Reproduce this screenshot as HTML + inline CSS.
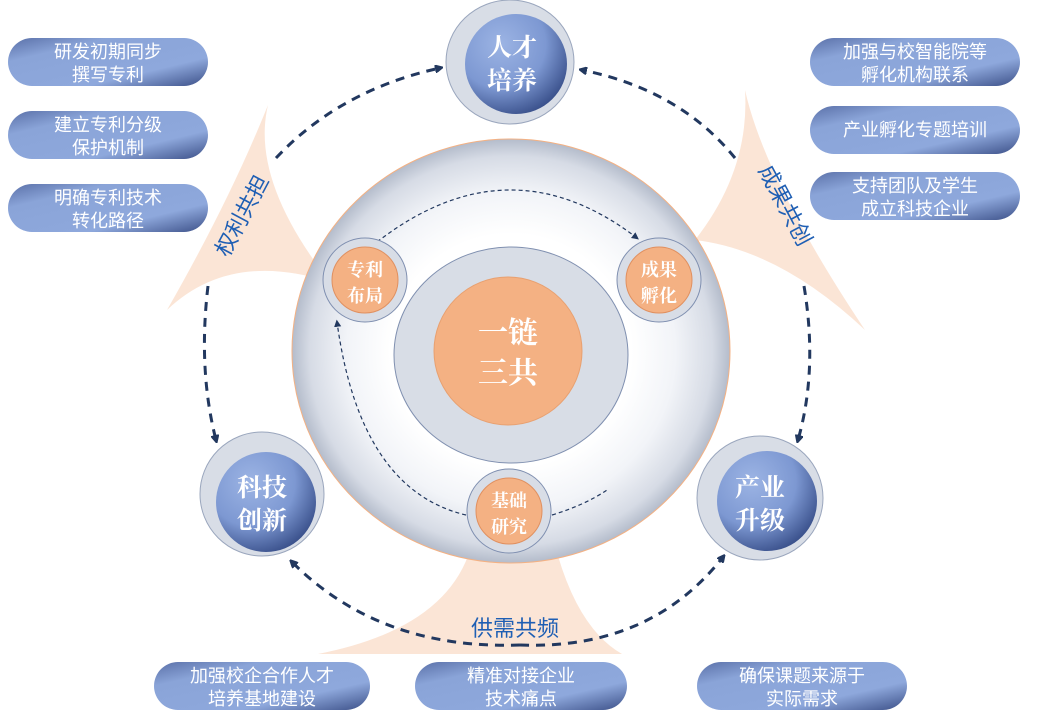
<!DOCTYPE html>
<html><head><meta charset="utf-8"><style>
body{margin:0;background:#fff;width:1037px;height:716px;overflow:hidden}
svg text{font-family:"Liberation Sans","Noto Sans CJK SC",sans-serif}
svg text.sf{font-family:"Liberation Serif","Noto Serif CJK SC",serif;font-weight:bold}
</style></head><body>
<svg width="1037" height="716" viewBox="0 0 1037 716" xmlns="http://www.w3.org/2000/svg">
<defs>
<linearGradient id="pill" x1="0" y1="0" x2="1" y2="1">
<stop offset="0" stop-color="#5a70a8"/><stop offset="0.25" stop-color="#8aa4d8"/><stop offset="0.7" stop-color="#8ea8dc"/><stop offset="1" stop-color="#3c5088"/></linearGradient>
<radialGradient id="blue" cx="0.35" cy="0.3" r="0.8"><stop offset="0" stop-color="#9cb4e4"/><stop offset="0.55" stop-color="#7d98d2"/><stop offset="1" stop-color="#2f4580"/></radialGradient>
<radialGradient id="ring" cx="0.5" cy="0.5" r="0.5"><stop offset="0.55" stop-color="#ffffff"/><stop offset="0.75" stop-color="#f2f4f8"/><stop offset="0.92" stop-color="#d6dbe5"/><stop offset="1" stop-color="#b4bccb"/></radialGradient>
<marker id="ar" markerWidth="8" markerHeight="8" refX="5" refY="4" orient="auto" markerUnits="userSpaceOnUse"><path d="M0,0 L8,4 L0,8Z" fill="#22385f" transform="scale(1.6) translate(-2,-1.5)"/></marker>
<marker id="as" markerWidth="8" markerHeight="8" refX="4" refY="4" orient="auto"><path d="M0,1 L6,4 L0,7Z" fill="#22385f"/></marker>
</defs>
<!-- fans -->
<path d="M268,105 Q250,180 330,282 Q230,250 167,310 Q230,200 268,105Z" fill="#fbe5d6"/>
<path d="M745,90 Q765,180 865,330 Q780,250 695,240 Q750,170 745,90Z" fill="#fbe5d6"/>
<path d="M468,556 Q440,630 318,654 L622,654 Q580,630 558,556Z" fill="#fbe5d6"/>
<!-- big ring -->
<ellipse cx="511" cy="351" rx="219" ry="212" fill="url(#ring)" stroke="#f4b183" stroke-width="1"/>
<ellipse cx="511" cy="355" rx="117" ry="108" fill="#d8dde6" stroke="#8090b0" stroke-width="1"/>
<circle cx="508" cy="351" r="74" fill="#f4b183" stroke="#e8a070"/>
<text class="sf" x="508" y="343" font-size="30" fill="#fff" text-anchor="middle">一链</text>
<text class="sf" x="508" y="383" font-size="30" fill="#fff" text-anchor="middle">三共</text>
<!-- inner dashed -->
<path d="M377,242 Q509,140 637,238" fill="none" stroke="#22385f" stroke-width="1.2" stroke-dasharray="4,3" marker-end="url(#as)"/>
<path d="M466,515 Q360,490 337,322" fill="none" stroke="#22385f" stroke-width="1.2" stroke-dasharray="4,3" marker-end="url(#as)"/>
<path d="M552,515 Q585,505 607,490" fill="none" stroke="#22385f" stroke-width="1.2" stroke-dasharray="4,3"/>
<!-- small nodes -->
<g><circle cx="365" cy="280" r="42" fill="#d8dde6" stroke="#7f8fb0"/><circle cx="365" cy="280" r="33" fill="#f4b183" stroke="#e09060"/>
<text class="sf" x="365" y="276" font-size="18" fill="#fff" text-anchor="middle">专利</text><text class="sf" x="365" y="302" font-size="18" fill="#fff" text-anchor="middle">布局</text></g>
<g><circle cx="659" cy="280" r="42" fill="#d8dde6" stroke="#7f8fb0"/><circle cx="659" cy="280" r="33" fill="#f4b183" stroke="#e09060"/>
<text class="sf" x="659" y="276" font-size="18" fill="#fff" text-anchor="middle">成果</text><text class="sf" x="659" y="302" font-size="18" fill="#fff" text-anchor="middle">孵化</text></g>
<g><circle cx="509" cy="511" r="42" fill="#d8dde6" stroke="#7f8fb0"/><circle cx="509" cy="511" r="33" fill="#f4b183" stroke="#e09060"/>
<text class="sf" x="509" y="507" font-size="18" fill="#fff" text-anchor="middle">基础</text><text class="sf" x="509" y="533" font-size="18" fill="#fff" text-anchor="middle">研究</text></g>
<!-- big nodes -->
<g><ellipse cx="510" cy="62" rx="64" ry="62" fill="#d8dde6" stroke="#9aa6bd"/><ellipse cx="516" cy="64" rx="51" ry="50" fill="url(#blue)"/>
<text class="sf" x="512" y="56" font-size="25" fill="#fff" text-anchor="middle">人才</text><text class="sf" x="512" y="89" font-size="25" fill="#fff" text-anchor="middle">培养</text></g>
<g><ellipse cx="262" cy="494" rx="62" ry="62" fill="#d8dde6" stroke="#9aa6bd"/><ellipse cx="266" cy="502" rx="50" ry="50" fill="url(#blue)"/>
<text class="sf" x="262" y="496" font-size="25" fill="#fff" text-anchor="middle">科技</text><text class="sf" x="262" y="529" font-size="25" fill="#fff" text-anchor="middle">创新</text></g>
<g><ellipse cx="760" cy="498" rx="63" ry="62" fill="#d8dde6" stroke="#9aa6bd"/><ellipse cx="767" cy="501" rx="50" ry="50" fill="url(#blue)"/>
<text class="sf" x="760" y="496" font-size="25" fill="#fff" text-anchor="middle">产业</text><text class="sf" x="760" y="529" font-size="25" fill="#fff" text-anchor="middle">升级</text></g>
<!-- outer dashed -->
<g fill="none" stroke="#22385f" stroke-width="3" stroke-dasharray="9,7">
<path d="M276,158 Q340,90 440,68" marker-end="url(#ar)"/>
<path d="M208,286 Q198,370 216,440" marker-end="url(#ar)"/>
<path d="M735,158 Q680,90 582,70" marker-end="url(#ar)"/>
<path d="M804,286 Q818,370 798,440" marker-end="url(#ar)"/>
<path d="M520,645 Q380,650 292,562" marker-end="url(#ar)"/>
<path d="M520,645 Q650,650 723,557" marker-end="url(#ar)"/>
</g>
<text x="0" y="0" font-size="22" fill="#1f5fb4" transform="translate(228,258) rotate(-62)">权利共担</text>
<text x="0" y="0" font-size="22" fill="#1f5fb4" transform="translate(758,170) rotate(62)">成果共创</text>
<text x="515" y="636" font-size="22" fill="#1f5fb4" text-anchor="middle">供需共频</text>
<!-- pills -->
<g font-size="18" fill="#fff" text-anchor="middle">
<rect x="8" y="38" width="200" height="48" rx="24" fill="url(#pill)"/><text x="108" y="58">研发初期同步</text><text x="108" y="81">撰写专利</text>
<rect x="8" y="111" width="200" height="48" rx="24" fill="url(#pill)"/><text x="108" y="131">建立专利分级</text><text x="108" y="154">保护机制</text>
<rect x="8" y="184" width="200" height="48" rx="24" fill="url(#pill)"/><text x="108" y="204">明确专利技术</text><text x="108" y="227">转化路径</text>
<rect x="810" y="38" width="210" height="48" rx="24" fill="url(#pill)"/><text x="915" y="58">加强与校智能院等</text><text x="915" y="81">孵化机构联系</text>
<rect x="810" y="106" width="210" height="48" rx="24" fill="url(#pill)"/><text x="915" y="136">产业孵化专题培训</text>
<rect x="810" y="172" width="210" height="48" rx="24" fill="url(#pill)"/><text x="915" y="192">支持团队及学生</text><text x="915" y="215">成立科技企业</text>
<rect x="154" y="662" width="216" height="48" rx="24" fill="url(#pill)"/><text x="262" y="682">加强校企合作人才</text><text x="262" y="705">培养基地建设</text>
<rect x="415" y="662" width="212" height="48" rx="24" fill="url(#pill)"/><text x="521" y="682">精准对接企业</text><text x="521" y="705">技术痛点</text>
<rect x="697" y="662" width="210" height="48" rx="24" fill="url(#pill)"/><text x="802" y="682">确保课题来源于</text><text x="802" y="705">实际需求</text>
</g>
</svg>
</body></html>
